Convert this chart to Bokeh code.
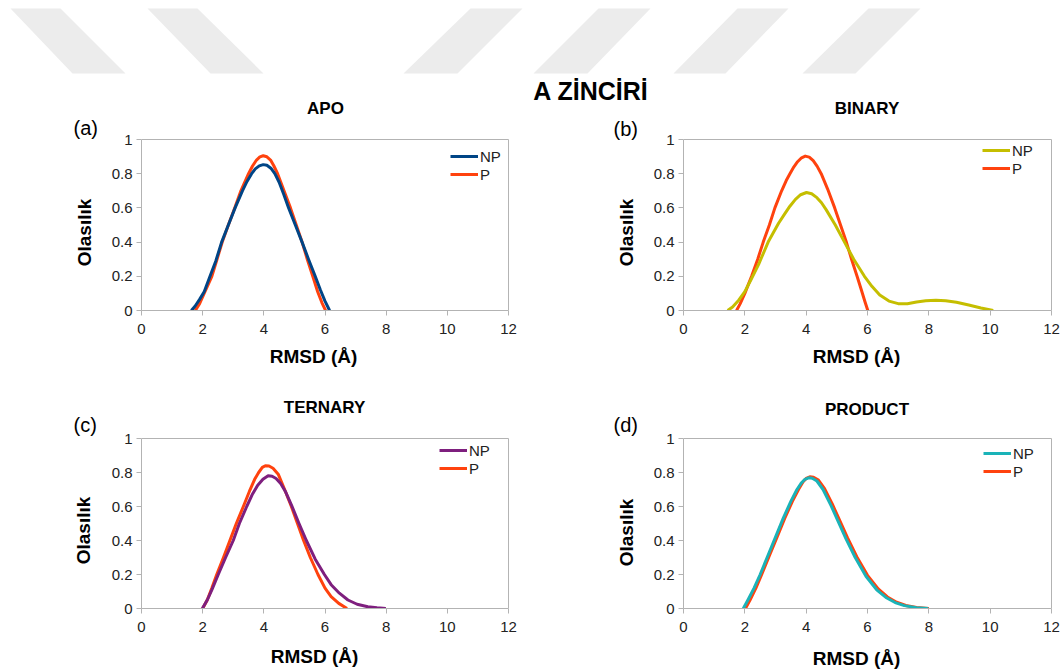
import numpy as np
from bokeh.plotting import figure
from bokeh.layouts import column, row
from bokeh.models import (Range1d, FixedTicker, NumeralTickFormatter,
                          Legend, LegendItem)
from bokeh.core.properties import value
from bokeh.embed import file_html
from bokeh.resources import INLINE

FONT = "Liberation Sans"

# ---------------- data ----------------
x_ticks = [0, 2, 4, 6, 8, 10, 12]
y_ticks = [0, 0.2, 0.4, 0.6, 0.8, 1]
series_names = ["NP", "P"]
main_title = "A ZİNCİRİ"
panel_titles = ["APO", "BINARY", "TERNARY", "PRODUCT"]
panel_tags = ["(a)", "(b)", "(c)", "(d)"]
x_label = "RMSD (Å)"
y_label = "Olasılık"

apo_np_x = [1.63, 1.75, 1.9, 2.05, 2.24, 2.43, 2.62, 2.84, 3.06, 3.3, 3.45, 3.6, 3.72, 3.85, 3.98, 4.1, 4.23, 4.36, 4.5, 4.65, 4.81, 5.03, 5.25, 5.46, 5.68, 5.85, 6.0, 6.15]
apo_np_y = [0, 0.025, 0.065, 0.11, 0.2, 0.29, 0.4, 0.5, 0.6, 0.7, 0.755, 0.8, 0.828, 0.846, 0.853, 0.849, 0.832, 0.8, 0.75, 0.68, 0.6, 0.5, 0.4, 0.3, 0.2, 0.12, 0.055, 0]
apo_p_x = [1.76, 1.9, 2.05, 2.3, 2.47, 2.64, 2.84, 3.05, 3.25, 3.5, 3.63, 3.76, 3.87, 3.98, 4.1, 4.22, 4.33, 4.45, 4.66, 4.87, 5.06, 5.25, 5.42, 5.6, 5.76, 5.9, 6.02]
apo_p_y = [0, 0.04, 0.1, 0.2, 0.3, 0.4, 0.5, 0.6, 0.7, 0.8, 0.845, 0.88, 0.898, 0.905, 0.899, 0.88, 0.845, 0.8, 0.7, 0.6, 0.5, 0.4, 0.3, 0.2, 0.11, 0.045, 0]

binary_np_x = [1.44, 1.6, 1.8, 2.0, 2.2, 2.45, 2.76, 3.1, 3.3, 3.47, 3.65, 3.82, 4.01, 4.18, 4.35, 4.5, 4.65, 4.95, 5.25, 5.55, 5.9, 6.15, 6.4, 6.7, 7.0, 7.3, 7.6, 7.9, 8.23, 8.55, 8.9, 9.3, 9.7, 10.1]
binary_np_y = [0, 0.02, 0.06, 0.11, 0.18, 0.27, 0.4, 0.51, 0.565, 0.61, 0.65, 0.677, 0.69, 0.683, 0.66, 0.63, 0.59, 0.5, 0.4, 0.3, 0.2, 0.14, 0.09, 0.055, 0.04, 0.04, 0.05, 0.057, 0.06, 0.057, 0.048, 0.032, 0.015, 0]
binary_p_x = [1.73, 1.85, 2.0, 2.22, 2.42, 2.6, 2.8, 2.98, 3.2, 3.35, 3.47, 3.6, 3.72, 3.85, 3.97, 4.1, 4.23, 4.36, 4.49, 4.7, 4.93, 5.12, 5.31, 5.48, 5.66, 5.8, 5.92, 6.01]
binary_p_y = [0, 0.04, 0.1, 0.2, 0.3, 0.4, 0.5, 0.6, 0.7, 0.76, 0.8, 0.84, 0.87, 0.893, 0.903, 0.897, 0.876, 0.843, 0.8, 0.71, 0.6, 0.5, 0.4, 0.3, 0.2, 0.12, 0.05, 0]

ternary_np_x = [1.99, 2.15, 2.3, 2.51, 2.75, 3.0, 3.2, 3.44, 3.62, 3.8, 3.97, 4.14, 4.27, 4.4, 4.55, 4.7, 4.9, 5.15, 5.39, 5.68, 5.98, 6.2, 6.47, 6.75, 7.05, 7.4, 7.7, 7.99]
ternary_np_y = [0, 0.05, 0.11, 0.2, 0.3, 0.4, 0.5, 0.6, 0.67, 0.725, 0.76, 0.781, 0.778, 0.765, 0.735, 0.69, 0.61, 0.5, 0.4, 0.29, 0.2, 0.14, 0.09, 0.05, 0.025, 0.01, 0.004, 0]
ternary_p_x = [2.0, 2.15, 2.3, 2.46, 2.68, 2.89, 3.1, 3.33, 3.53, 3.7, 3.83, 3.95, 4.05, 4.17, 4.3, 4.47, 4.68, 4.9, 5.1, 5.3, 5.52, 5.77, 6.0, 6.2, 6.45, 6.72]
ternary_p_y = [0, 0.05, 0.12, 0.2, 0.3, 0.4, 0.5, 0.6, 0.69, 0.76, 0.8, 0.83, 0.84, 0.838, 0.825, 0.79, 0.7, 0.6, 0.5, 0.4, 0.3, 0.2, 0.12, 0.07, 0.03, 0]

product_np_x = [1.95, 2.1, 2.3, 2.5, 2.75, 3.0, 3.25, 3.5, 3.7, 3.85, 3.96, 4.08, 4.2, 4.35, 4.55, 4.8, 5.05, 5.3, 5.6, 5.95, 6.3, 6.6, 6.9, 7.2, 7.6, 7.98]
product_np_y = [0, 0.05, 0.12, 0.2, 0.31, 0.42, 0.53, 0.63, 0.7, 0.74, 0.76, 0.769, 0.766, 0.75, 0.7, 0.61, 0.51, 0.41, 0.3, 0.19, 0.11, 0.065, 0.035, 0.017, 0.005, 0]
product_p_x = [2.02, 2.17, 2.36, 2.55, 2.8, 3.05, 3.3, 3.55, 3.75, 3.9, 4.0, 4.12, 4.24, 4.4, 4.6, 4.85, 5.1, 5.35, 5.65, 6.0, 6.35, 6.65, 6.95, 7.25, 7.6, 8.0]
product_p_y = [0, 0.05, 0.12, 0.2, 0.31, 0.42, 0.53, 0.63, 0.7, 0.745, 0.765, 0.775, 0.772, 0.755, 0.705, 0.615, 0.515, 0.415, 0.305, 0.195, 0.115, 0.068, 0.037, 0.018, 0.006, 0]

np_colors = ["#004586", "#c5be00", "#7e1f7e", "#1ab3b8"]
p_color = "#ff420e"

# watermark stripes (decoration, page pixels)
stripe_xs = [[10, 60, 125, 72], [147, 197, 263, 210], [470, 522, 457, 403],
             [598, 650, 587, 533], [737, 788, 725, 673], [868, 920, 855, 802]]
stripe_ys = [[8, 8, 73, 73]] * 6

GRAY = "#b3b3b3"
TXT = "#222222"
SHIFT = 0.37  # renderer places 'alphabetic' text this many em lower
BOT = 34      # bottom border of every panel row (x tick labels)
PX_X = 30.75  # pixels per x unit
FRAME_W = 373  # frame a little wider than x = 0..12 so the right box edge is visible


# ---------------- helpers ----------------
def deco(x0, y0, x1, y1, bottom=0):
    """Blank figure whose frame coordinates are page pixels (y downwards)."""
    f = figure(width=x1 - x0, height=y1 - y0,
               x_range=Range1d(x0, x1), y_range=Range1d(y1 - bottom, y0),
               min_border_left=0, min_border_right=0,
               min_border_top=0, min_border_bottom=bottom,
               toolbar_location=None, output_backend="svg",
               x_axis_type=None, y_axis_type=None)
    f.grid.visible = False
    f.outline_line_color = None
    f.background_fill_color = "white"
    f.border_fill_color = "white"
    return f


def put_text(f, x, y, text, size, bold=False, align="center", angle=0.0, to_data=None):
    d = SHIFT * size
    if angle:
        x -= d
    else:
        y -= d
    if to_data is not None:
        x, y = to_data(x, y)
    f.text(x=[x], y=[y], text=[text], text_font=value(FONT),
           text_font_size=f"{size}px", text_font_style="bold" if bold else "normal",
           text_align=align, text_baseline="alphabetic", text_color="black",
           angle=angle)


data = [
    (apo_np_x, apo_np_y, apo_p_x, apo_p_y),
    (binary_np_x, binary_np_y, binary_p_x, binary_p_y),
    (ternary_np_x, ternary_np_y, ternary_p_x, ternary_p_y),
    (product_np_x, product_np_y, product_p_x, product_p_y),
]

R1_TOP, R1_BOTTOM = 77, 310    # frame top / y=0 pixel of row 1
R2_TOP, R2_BOTTOM = 372, 608   # frame top / y=0 pixel of row 2

geos = [
    dict(w=412, left=31, right=8, fl=139, top=R1_TOP, fb=R1_BOTTOM, ppu=171,
         title=(324, 114), leg=(309, 127)),
    dict(w=410, left=32, right=5, fl=682, top=R1_TOP, fb=R1_BOTTOM, ppu=171,
         title=(866, 114), leg=(299, 133)),
    dict(w=412, left=31, right=8, fl=139, top=R2_TOP, fb=R2_BOTTOM, ppu=170,
         title=(323, 413), leg=(298, 131)),
    dict(w=410, left=32, right=5, fl=682, top=R2_TOP, fb=R2_BOTTOM, ppu=170,
         title=(866, 415), leg=(300, 128)),
]


def make_panel(i):
    g = geos[i]
    nx, ny, px, py = data[i]
    fh = g["fb"] - g["top"]
    p = figure(width=g["w"], height=fh + BOT,
               min_border_left=g["left"], min_border_right=g["right"],
               min_border_top=0, min_border_bottom=BOT,
               x_range=Range1d(0, FRAME_W / PX_X), y_range=Range1d(0, fh / g["ppu"]),
               output_backend="svg", toolbar_location=None)
    p.xgrid.visible = False
    p.ygrid.visible = False
    p.outline_line_color = None
    p.background_fill_color = "white"
    p.border_fill_color = "white"
    p.xaxis.ticker = FixedTicker(ticks=x_ticks)
    p.yaxis.ticker = FixedTicker(ticks=y_ticks)
    p.xaxis.bounds = (x_ticks[0], x_ticks[-1])
    p.yaxis.bounds = (y_ticks[0], y_ticks[-1])
    p.yaxis.formatter = NumeralTickFormatter(format="0.[0]")
    p.xaxis.formatter = NumeralTickFormatter(format="0")
    for ax in (p.xaxis[0], p.yaxis[0]):
        ax.axis_line_color = GRAY
        ax.major_tick_line_color = GRAY
        ax.minor_tick_line_color = None
        ax.major_tick_in = 0
        ax.major_tick_out = 5
        ax.major_label_text_font = FONT
        ax.major_label_text_font_size = "15px"
        ax.major_label_text_color = TXT
    p.xaxis.major_label_standoff = 8
    p.yaxis.major_label_standoff = 4

    # top and right edges of the plot box
    p.line([x_ticks[0], x_ticks[-1], x_ticks[-1]], [y_ticks[-1], y_ticks[-1], y_ticks[0]],
           line_color=GRAY, line_width=1)

    r_p = p.line(px, py, line_color=p_color, line_width=3, line_join="round")
    r_np = p.line(nx, ny, line_color=np_colors[i], line_width=3, line_join="round")

    leg = Legend(items=[LegendItem(label=series_names[0], renderers=[r_np]),
                        LegendItem(label=series_names[1], renderers=[r_p])],
                 location=g["leg"], glyph_width=28, glyph_height=18,
                 label_height=18, label_standoff=2, spacing=0, padding=0,
                 margin=0, border_line_color=None, background_fill_alpha=0,
                 label_text_font=FONT, label_text_font_size="15px",
                 label_text_color=TXT)
    p.add_layout(leg)

    def to_data(x, y):
        return (x - g["fl"]) / PX_X, (g["fb"] - y) / g["ppu"]

    put_text(p, g["title"][0], g["title"][1], panel_titles[i], 17, bold=True, to_data=to_data)
    return p


W = 1060
R1_END = R1_BOTTOM + BOT   # 344
R2_END = R2_BOTTOM + BOT   # 642

# ---------------- header: watermark ----------------
header = deco(0, 0, W, R1_TOP)
header.patches(stripe_xs, stripe_ys, fill_color="#ececec", line_color=None)

# ---------------- row 1 ----------------
strip_a = deco(0, R1_TOP, 108, R1_END, bottom=BOT)
put_text(strip_a, 73, 135, panel_tags[0], 20, align="left")
put_text(strip_a, 91, 232, y_label, 19, bold=True, angle=np.pi / 2)
strip_b = deco(520, R1_TOP, 650, R1_END, bottom=BOT)
put_text(strip_b, 590.5, 100, main_title, 25, bold=True)
put_text(strip_b, 613, 136, panel_tags[1], 20, align="left")
put_text(strip_b, 633, 232, y_label, 19, bold=True, angle=np.pi / 2)

# ---------------- middle: row-1 x labels ----------------
mid = deco(0, R1_END, W, R2_TOP)
put_text(mid, 313, 363, x_label, 19, bold=True)
put_text(mid, 856, 363, x_label, 19, bold=True)

# ---------------- row 2 ----------------
strip_c = deco(0, R2_TOP, 108, R2_END, bottom=BOT)
put_text(strip_c, 73, 432, panel_tags[2], 20, align="left")
put_text(strip_c, 90, 530, y_label, 19, bold=True, angle=np.pi / 2)
strip_d = deco(520, R2_TOP, 650, R2_END, bottom=BOT)
put_text(strip_d, 613, 432, panel_tags[3], 20, align="left")
put_text(strip_d, 633, 532, y_label, 19, bold=True, angle=np.pi / 2)

# ---------------- footer: row-2 x labels ----------------
footer = deco(0, R2_END, W, 671)
put_text(footer, 314, 663, x_label, 19, bold=True)
put_text(footer, 856, 665, x_label, 19, bold=True)

panels = [make_panel(i) for i in range(4)]
layout = column(
    header,
    row(strip_a, panels[0], strip_b, panels[1], spacing=0),
    mid,
    row(strip_c, panels[2], strip_d, panels[3], spacing=0),
    footer,
    spacing=0,
)

open("out.html", "w").write(file_html(layout, INLINE))
